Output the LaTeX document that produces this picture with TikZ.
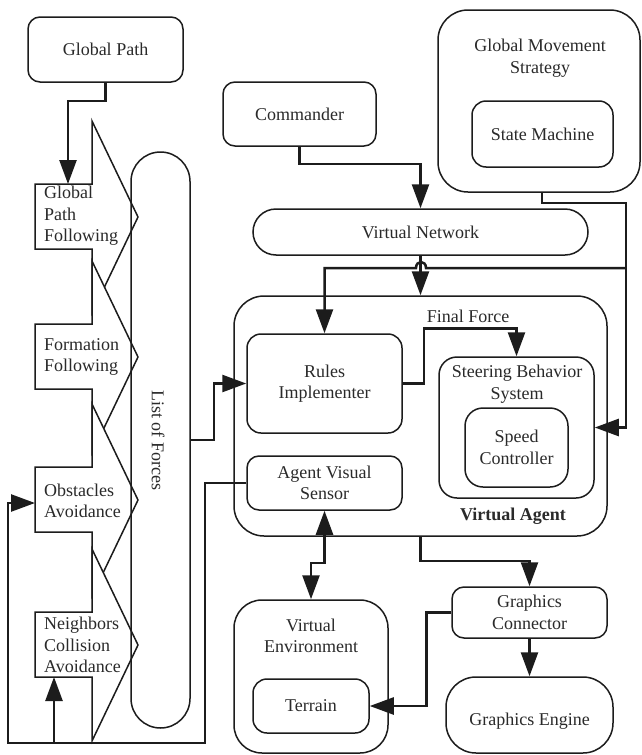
\documentclass[tikz,border=0pt]{standalone}
\usepackage{fontspec}
\setmainfont{Liberation Serif}
\usetikzlibrary{arrows.meta}
\newcommand{\diagfont}{\fontsize{18}{21.5}\selectfont}
\definecolor{linec}{HTML}{1C1C1C}
\definecolor{textc}{HTML}{2A2A2A}
\begin{document}
\begin{tikzpicture}[x=1pt,y=-1pt,
  box/.style={draw=linec, line width=1.5pt, fill=white, inner sep=0pt, align=center, text=textc, font=\diagfont},
  lbl/.style={inner sep=0pt, align=center, text=textc, font=\diagfont},
  conn/.style={draw=linec, line width=2.5pt, arrows={-Triangle[length=24pt, width=17pt]}},
  bothconn/.style={draw=linec, line width=2.5pt, arrows={Triangle[length=24pt, width=17pt]-Triangle[length=24pt, width=17pt]}},
  blockarrow/.style={draw=linec, line width=1.5pt, fill=white}]
\fill[white] (0,0) rectangle (642,755);
\useasboundingbox (0,0) rectangle (642,755);

% left block arrows
\draw[blockarrow] (35,184) -- (92,184) -- (92,121) -- (138,217) -- (92,313) -- (92,249) -- (35,249) -- cycle;
\draw[blockarrow] (35,324) -- (92,324) -- (92,261) -- (138,357) -- (92,453) -- (92,389) -- (35,389) -- cycle;
\draw[blockarrow] (35,467) -- (92,467) -- (92,404) -- (138,500) -- (92,596) -- (92,532) -- (35,532) -- cycle;
\draw[blockarrow] (35,612) -- (92,612) -- (92,549) -- (138,645) -- (92,741) -- (92,677) -- (35,677) -- cycle;
\node[lbl, anchor=west, align=left] (t1) at (44,216) {Global\\Path\\Following};
\node[lbl, anchor=west, align=left] (t2) at (44,357) {Formation\\Following};
\node[lbl, anchor=west, align=left] (t3) at (44,501) {Obstacles\\Avoidance};
\node[lbl, anchor=west, align=left] (t4) at (44,645) {Neighbors\\Collision\\Avoidance};
\coordinate (s1top) at (68,184);
\coordinate (s3in) at (35,503);
\coordinate (s4bot) at (54,677);

% list of forces capsule
\node[draw=linec, line width=1.5pt, rounded corners=29.5pt, minimum width=59pt, minimum height=576pt, inner sep=0pt] (lof) at (160.5,440) {};
\node[lbl, rotate=-90] (loft) at (158,440) {List of Forces};

% top boxes
\node[box, rounded corners=12pt, minimum width=155pt, minimum height=65pt] (gp) at (105.5,49.5) {Global Path};
\node[box, rounded corners=12pt, minimum width=153pt, minimum height=64pt] (cmd) at (299.5,114) {Commander};
\node[box, rounded corners=30pt, minimum width=202pt, minimum height=182pt] (gms) at (539,101) {};
\node[lbl] (gmst) at (540,58) {Global Movement\\Strategy};
\node[box, rounded corners=14pt, minimum width=141pt, minimum height=66pt] (sm) at (542.5,134) {State Machine};
\node[box, rounded corners=23pt, minimum width=335pt, minimum height=46pt] (vn) at (420.5,232) {Virtual Network};

% virtual agent
\node[box, rounded corners=30pt, minimum width=373pt, minimum height=240pt] (va) at (420.5,416) {};
\node[lbl, font=\diagfont\bfseries] (vat) at (513,516) {Virtual Agent};
\node[lbl] (fft) at (468,316) {Final Force};
\node[box, rounded corners=14pt, minimum width=155pt, minimum height=99pt] (ri) at (324.5,383.5) {Rules\\Implementer};
\node[box, rounded corners=18pt, minimum width=155pt, minimum height=141pt] (ss) at (516.5,427.5) {};
\node[lbl] (sst) at (517,384) {Steering Behavior\\System};
\node[box, rounded corners=18pt, minimum width=103pt, minimum height=79pt] (sc) at (516.5,447.5) {Speed\\Controller};
\node[box, rounded corners=12pt, minimum width=155pt, minimum height=54pt] (avs) at (324.5,483) {Agent Visual\\Sensor};

% bottom boxes
\node[box, rounded corners=28pt, minimum width=154pt, minimum height=153pt] (ve) at (311,676.5) {};
\node[lbl] (vet) at (311,636) {Virtual\\Environment};
\node[box, rounded corners=14pt, minimum width=116pt, minimum height=54pt] (ter) at (311,706) {Terrain};
\node[box, rounded corners=12pt, minimum width=155pt, minimum height=51pt] (gc) at (529.5,612.5) {Graphics\\Connector};
\node[box, rounded corners=30pt, minimum width=167pt, minimum height=76pt] (ge) at (529.5,715) {};
\node[lbl] (get) at (529.5,721) {Graphics Engine};

% connectors
\coordinate (bus) at (626,268);
\coordinate (fb1) at (205,743);
\coordinate (fb2) at (8,743);
\coordinate (fb3) at (54,743);
\draw[conn] (gp.south) -- ++(0,18) -| (s1top);
\draw[conn] (cmd.south) -- ++(0,17) -| (vn.north);
\draw[conn] (gms.south -| 542,0) -- ++(0,10) -| (bus) |- (ss.east);
\draw[conn] (bus) -- (426,268) .. controls (426,260) and (416,260) .. (416,268) -| (ri.north);
\draw[conn] (vn.south) -- (va.north);
\draw[conn] (lof.east) -- ++(23,0) |- (ri.west);
\draw[conn] (ri.east) -- ++(21,0) -- ++(0,-55) -| (ss.north);
\draw[conn] (avs.west) -| (fb1) -- (fb2) |- (s3in);
\draw[conn] (fb3) -- (s4bot);
\draw[bothconn] (avs.south) -- ++(0,52) -| (ve.north);
\draw[conn] (va.south) -- ++(0,24) -| (gc.north);
\draw[conn] (gc.south) -- (ge.north);
\draw[conn] (gc.west) -- ++(-25,0) |- (ter.east);
\end{tikzpicture}
\end{document}
